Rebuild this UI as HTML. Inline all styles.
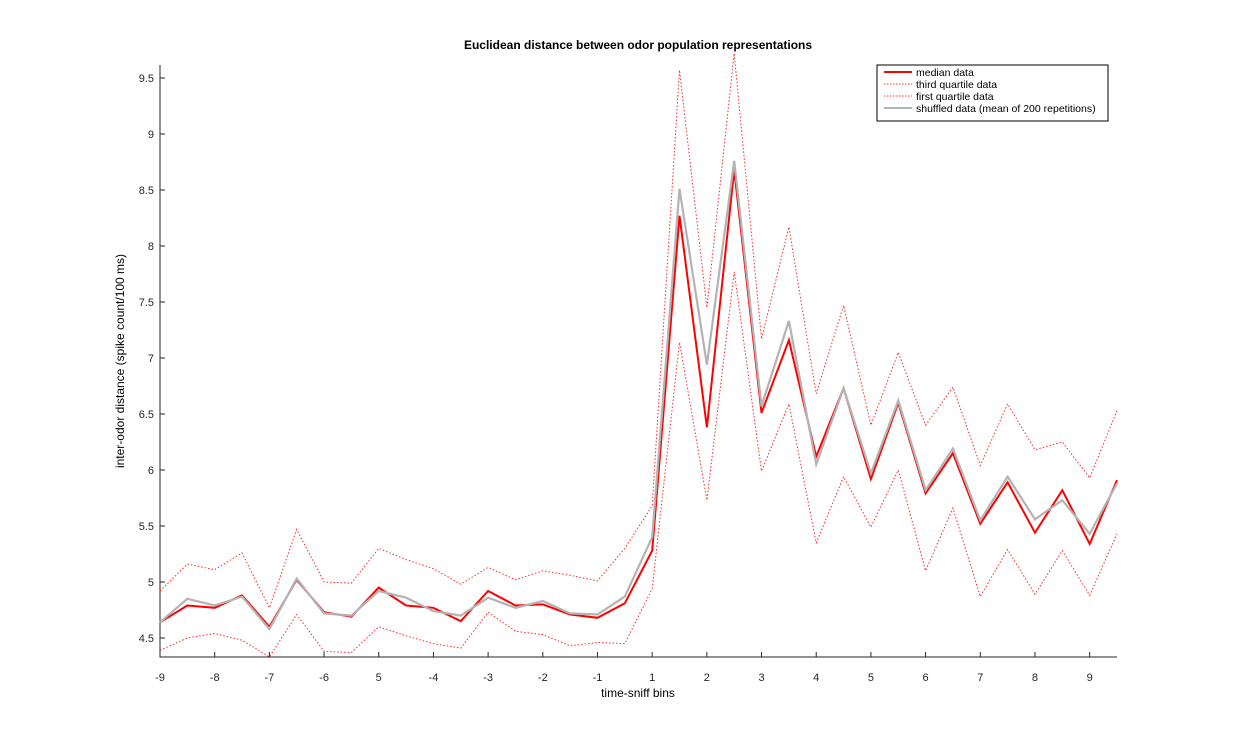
<!DOCTYPE html>
<html><head><meta charset="utf-8"><style>
html,body{margin:0;padding:0;background:#fff;}
svg{display:block;font-family:"Liberation Sans",Arial,sans-serif;}
</style></head><body>
<svg id="chart" width="1235" height="738" viewBox="0 0 1235 738" xmlns="http://www.w3.org/2000/svg">
<rect width="1235" height="738" fill="#fff"/>
<text x="638" y="49" text-anchor="middle" font-size="12" font-weight="bold" fill="#000">Euclidean distance between odor population representations</text>
<g id="plot"></g>
<text x="638" y="697" text-anchor="middle" font-size="12" fill="#000">time-sniff bins</text>
<text transform="translate(124,361) rotate(-90)" text-anchor="middle" font-size="12" fill="#000">inter-odor distance (spike count/100 ms)</text>
<g>
<rect x="877" y="65" width="231" height="56" fill="#fff" stroke="#000" stroke-width="1"/>
<line x1="884" y1="72" x2="912" y2="72" stroke="#ff0000" stroke-width="2"/>
<text x="916" y="76" font-size="10.5">median data</text>
<line x1="884" y1="84" x2="912" y2="84" stroke="#ff0000" stroke-width="1" stroke-dasharray="1.5,1.5" opacity="0.8"/>
<text x="916" y="88" font-size="10.5">third quartile data</text>
<line x1="884" y1="96" x2="912" y2="96" stroke="#ff0000" stroke-width="1" stroke-dasharray="1.5,1.5" opacity="0.8"/>
<text x="916" y="100" font-size="10.5">first quartile data</text>
<line x1="884" y1="108" x2="912" y2="108" stroke="#b3b3b3" stroke-width="2"/>
<text x="916" y="112" font-size="10.5">shuffled data (mean of 200 repetitions)</text>
</g>
</svg>
<script>
const xTickLabels = ["-9","-8","-7","-6","5","-4","-3","-2","-1","1","2","3","4","5","6","7","8","9"];
const yTicks = [4.5,5,5.5,6,6.5,7,7.5,8,8.5,9,9.5];
const medianData = [4.64,4.79,4.77,4.88,4.60,5.02,4.73,4.69,4.95,4.79,4.77,4.65,4.92,4.79,4.80,4.71,4.68,4.81,5.28,8.27,6.38,8.68,6.51,7.16,6.12,6.73,5.92,6.60,5.79,6.15,5.52,5.89,5.44,5.82,5.34,5.91];
const shuffledData = [4.64,4.85,4.79,4.87,4.58,5.03,4.72,4.70,4.92,4.86,4.74,4.70,4.86,4.77,4.83,4.72,4.71,4.87,5.40,8.51,6.94,8.76,6.57,7.33,6.05,6.73,5.97,6.62,5.82,6.19,5.55,5.94,5.56,5.73,5.43,5.88];
const thirdQuartile = [4.92,5.16,5.11,5.26,4.77,5.47,5.00,4.99,5.30,5.20,5.12,4.98,5.13,5.02,5.10,5.06,5.01,5.30,5.68,9.57,7.45,9.72,7.17,8.17,6.68,7.47,6.40,7.05,6.40,6.74,6.04,6.59,6.18,6.25,5.93,6.53];
const firstQuartile = [4.39,4.50,4.54,4.48,4.33,4.71,4.38,4.37,4.60,4.52,4.45,4.41,4.73,4.56,4.53,4.43,4.46,4.45,4.94,7.14,5.73,7.77,5.99,6.59,5.35,5.94,5.49,6.00,5.10,5.66,4.87,5.29,4.89,5.28,4.88,5.43];

const NS="http://www.w3.org/2000/svg";
const L=160,R=1117,T=65,B=657;
const yMin=4.5-19/112, yMax=9.5+13/112;
const nPts=medianData.length;
function xs(i){return L+(R-L)*i/(nPts-1);}
function ys(v){return B-(v-yMin)/(yMax-yMin)*(B-T);}
const g=document.getElementById('plot');
function mk(tag,attrs){const e=document.createElementNS(NS,tag);for(const k in attrs)e.setAttribute(k,attrs[k]);g.appendChild(e);return e;}

let ax=mk('path',{d:`M${L},${T}V${B}H${R}`,fill:'none',stroke:'#262626','stroke-width':1});


yTicks.forEach(v=>{
  const y=ys(v);
  const t=mk('line',{x1:L,x2:L+5,y1:y,y2:y,stroke:'#262626'});
  
  
  const tx=mk('text',{x:L-6,y:y+4,'text-anchor':'end','font-size':11,fill:'#262626'});
  tx.textContent=String(v);
  
  
});
xTickLabels.forEach((lab,k)=>{
  const x=xs(k*2);
  const t=mk('line',{x1:x,x2:x,y1:B,y2:B-5,stroke:'#262626'});
  
  
  const tx=mk('text',{x:x,y:B+24,'text-anchor':'middle','font-size':11,fill:'#262626'});
  tx.textContent=lab;
  
  
});
function pts(arr){return arr.map((v,i)=>xs(i).toFixed(1)+','+ys(v).toFixed(1)).join(' ');}
let p;
p=mk('polyline',{points:pts(thirdQuartile),fill:'none',stroke:'#ff0000','stroke-width':1,'stroke-dasharray':'1.5,2',opacity:0.85});


p=mk('polyline',{points:pts(firstQuartile),fill:'none',stroke:'#ff0000','stroke-width':1,'stroke-dasharray':'1.5,2',opacity:0.85});


p=mk('polyline',{points:pts(medianData),fill:'none',stroke:'#ff0000','stroke-width':2,'stroke-linejoin':'miter'});


p=mk('polyline',{points:pts(shuffledData),fill:'none',stroke:'#b3b3b3','stroke-width':2.2});


</script>
</body></html>
